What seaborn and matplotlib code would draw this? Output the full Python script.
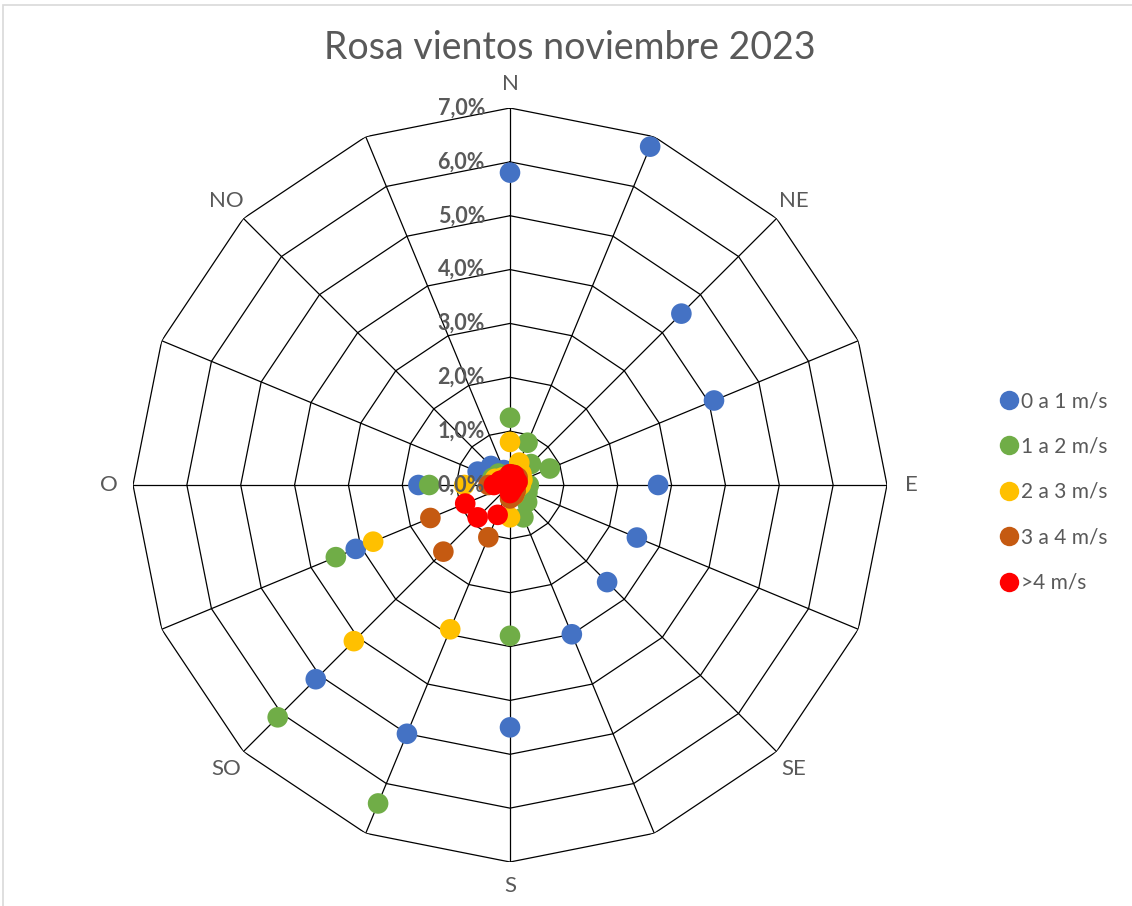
import numpy as np
import pandas as pd
import matplotlib
matplotlib.use("Agg")
import matplotlib.pyplot as plt
from matplotlib.lines import Line2D
from matplotlib.patches import Rectangle
import seaborn as sns

# ------------------------------
# Datos (% de frecuencia por dirección)
# ------------------------------
direcciones = ["N", "NNE", "NE", "ENE", "E", "ESE", "SE", "SSE",
               "S", "SSO", "SO", "OSO", "O", "ONO", "NO", "NNO"]
etiquetas = ["N", "", "NE", "", "E", "", "SE", "",
             "S", "", "SO", "", "O", "", "NO", ""]

v_0_1 = [5.80, 6.80, 4.50, 4.10, 2.75, 2.55, 2.55, 3.00,
         4.50, 5.00, 5.10, 3.10, 1.70, 0.65, 0.50, 0.30]
v_1_2 = [1.25, 0.85, 0.55, 0.80, 0.35, 0.35, 0.45, 0.65,
         2.80, 6.40, 6.10, 3.50, 1.50, 0.35, 0.30, 0.20]
v_2_3 = [0.80, 0.45, 0.30, 0.25, 0.20, 0.15, 0.15, 0.20,
         0.60, 2.90, 4.10, 2.75, 0.85, 0.30, 0.20, 0.15]
v_3_4 = [0.20, 0.20, 0.20, 0.15, 0.10, 0.10, 0.15, 0.20,
         0.25, 1.05, 1.75, 1.60, 0.40, 0.15, 0.15, 0.15]
v_4 = [0.20, 0.20, 0.15, 0.15, 0.10, 0.05, 0.05, 0.10,
       0.15, 0.60, 0.85, 0.90, 0.30, 0.20, 0.10, 0.10]

series = ["0 a 1 m/s", "1 a 2 m/s", "2 a 3 m/s", "3 a 4 m/s", ">4 m/s"]
colores = ["#4472C4", "#70AD47", "#FFC000", "#C55A11", "#FF0000"]
niveles = [0, 1, 2, 3, 4, 5, 6, 7]

angulos = np.deg2rad(np.arange(16) * 22.5)

df = pd.concat([
    pd.DataFrame({"theta": angulos, "valor": vals, "serie": nombre, "dir": direcciones})
    for nombre, vals in zip(series, [v_0_1, v_1_2, v_2_3, v_3_4, v_4])
], ignore_index=True)

# ------------------------------
# Estilo
# ------------------------------
sns.set_style("white")
plt.rcParams["font.family"] = ["Lato", "DejaVu Sans"]
gris = "#595959"

fig = plt.figure(figsize=(11.32, 9.06), dpi=100)
fig.patches.append(Rectangle((3 / 1132, -0.01), 1.02, 1 - 5 / 906 + 0.01,
                             transform=fig.transFigure, fill=False,
                             edgecolor="#D9D9D9", linewidth=1.2))

ax = fig.add_axes([133 / 1132, 44 / 906, 754 / 1132, 754 / 906], projection="polar")
ax.set_theta_zero_location("N")
ax.set_theta_direction(-1)
ax.set_ylim(0, 7)
ax.spines["polar"].set_visible(False)
ax.yaxis.grid(False)
ax.xaxis.grid(True, color="black", linewidth=0.9)
ax.set_yticks([])

# red poligonal
cerrado = np.append(angulos, angulos[0])
for r in niveles[1:]:
    ax.plot(cerrado, [r] * len(cerrado), color="black", linewidth=0.9, zorder=1)

sns.scatterplot(data=df, x="theta", y="valor", hue="serie", palette=colores,
                s=220, linewidth=0, ax=ax, legend=False, zorder=3)
ax.set_xlabel("")
ax.set_ylabel("")
ax.set_ylim(0, 7)

ax.set_xticks(angulos)
ax.set_xticklabels(etiquetas, fontsize=16, color=gris)
ax.tick_params(axis="x", pad=7)

for r in niveles:
    ax.annotate(f"{r},0%", xy=(0, r), xytext=(-18, 0), textcoords="offset points",
                ha="right", va="center", fontsize=15.5, fontweight="bold", color=gris,
                zorder=4)

fig.text(570 / 1132, 1 - 48 / 906, "Rosa vientos noviembre 2023",
         ha="center", va="center", fontsize=27, color=gris)

handles = [Line2D([0], [0], marker="o", linestyle="", markersize=14,
                  markerfacecolor=c, markeredgewidth=0) for c in colores]
fig.legend(handles, series, loc="center left", bbox_to_anchor=(990 / 1132, 1 - 492 / 906),
           frameon=False, fontsize=15, labelcolor=gris, handlelength=0.8,
           handletextpad=0.2, labelspacing=1.22, borderpad=0)

plt.savefig("out.png", dpi=100)
plt.close()
